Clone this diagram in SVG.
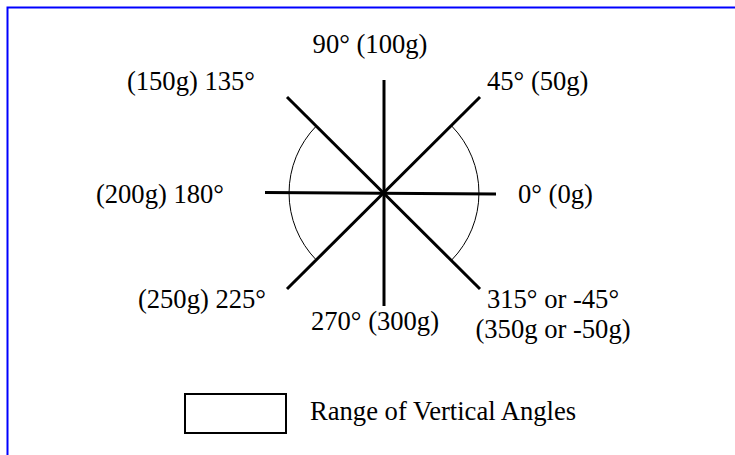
<svg xmlns="http://www.w3.org/2000/svg" width="735" height="455" viewBox="0 0 735 455">
<style>
text{font-family:"Liberation Serif","Times New Roman",serif;font-size:26.6px;fill:#000}
.ray{stroke:#000;stroke-width:3;fill:none}
.arc{stroke:#000;stroke-width:1;fill:none}
</style>
<rect width="735" height="455" fill="#fff"/>
<rect x="7.5" y="7.5" width="740" height="460" fill="none" stroke="#0000ff" stroke-width="2"/>
<g id="connectors">
<line class="ray" x1="384" y1="80" x2="384" y2="306"/>
<line class="ray" x1="265" y1="192.5" x2="496" y2="194"/>
<line class="ray" x1="287" y1="97" x2="480" y2="289"/>
<line class="ray" x1="287" y1="289" x2="480" y2="97"/>
<path class="arc" d="M451.7,126 A96,96 0 0 1 451.7,260"/>
<path class="arc" d="M316.3,126 A96,96 0 0 0 316.3,260"/>
</g>
<g id="label-90"><text x="370" y="53" text-anchor="middle">90° (100g)</text></g>
<g id="label-45"><text x="487" y="90">45° (50g)</text></g>
<g id="label-135"><text x="255" y="90" text-anchor="end">(150g) 135°</text></g>
<g id="label-180"><text x="224" y="203" text-anchor="end">(200g) 180°</text></g>
<g id="label-0"><text x="518" y="203">0° (0g)</text></g>
<g id="label-225"><text x="266" y="308" text-anchor="end">(250g) 225°</text></g>
<g id="label-270"><text x="375" y="330" text-anchor="middle">270° (300g)</text></g>
<g id="label-315"><text x="553" y="308" text-anchor="middle">315° or -45°</text><text x="553" y="338" text-anchor="middle">(350g or -50g)</text></g>
<g id="legend"><rect x="185" y="394" width="101" height="39" fill="none" stroke="#000" stroke-width="2"/><text x="310" y="420">Range of Vertical Angles</text></g>
</svg>
